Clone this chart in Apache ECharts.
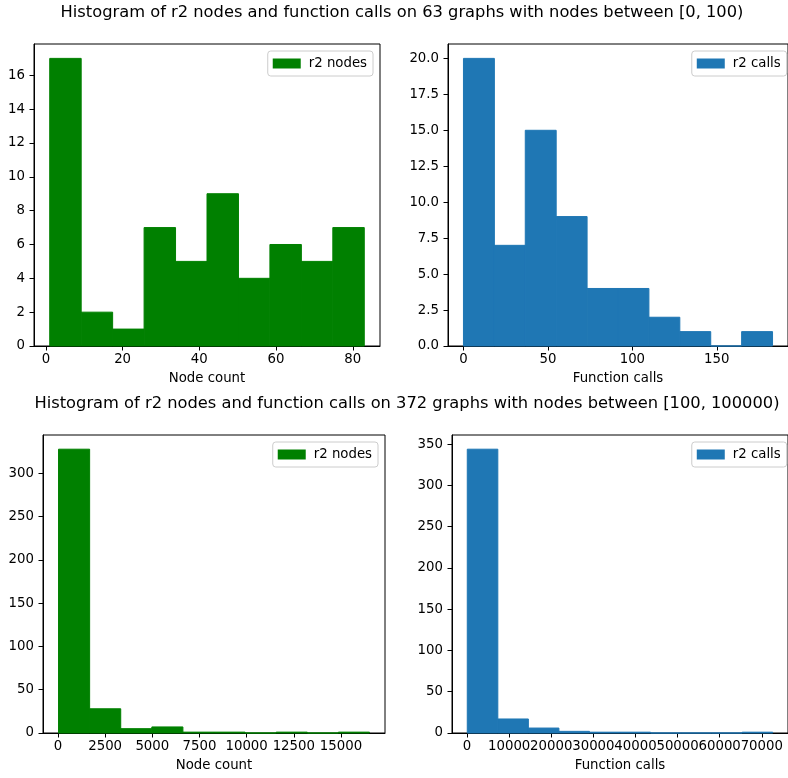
<!DOCTYPE html>
<html>
<head>
<meta charset="utf-8">
<script src="https://cdn.jsdelivr.net/npm/echarts@6/dist/echarts.min.js"></script>
<style>
  html, body { margin: 0; padding: 0; background: #fff; }
  #chart { width: 788px; height: 778px; }
</style>
</head>
<body>
<div id="chart"></div>
<script>
// Histogram counts (10 equal-width bins between the data min and max)
const nodesSmallRange = [1, 83];
const nodesSmallCounts = [17, 2, 1, 7, 5, 9, 4, 6, 5, 7];
const callsSmallRange = [0, 183];
const callsSmallCounts = [20, 7, 15, 9, 4, 4, 2, 1, 0, 1];
const nodesLargeRange = [30, 16510];
const nodesLargeCounts = [328, 28, 5, 7, 1, 1, 0, 1, 0, 1];
const callsLargeRange = [50, 72600];
const callsLargeCounts = [344, 17, 6, 2, 1, 1, 0, 0, 0, 1];

// Tick values
const ticksX1 = [0, 20, 40, 60, 80];
const ticksY1 = [0, 2, 4, 6, 8, 10, 12, 14, 16];
const ticksX2 = [0, 50, 100, 150];
const ticksY2 = [0, 2.5, 5, 7.5, 10, 12.5, 15, 17.5, 20];
const ticksX3 = [0, 2500, 5000, 7500, 10000, 12500, 15000];
const ticksY3 = [0, 50, 100, 150, 200, 250, 300];
const ticksX4 = [0, 10000, 20000, 30000, 40000, 50000, 60000, 70000];
const ticksY4 = [0, 50, 100, 150, 200, 250, 300, 350];

const titleTop = 'Histogram of r2 nodes and function calls on 63 graphs with nodes between [0, 100)';
const titleBottom = 'Histogram of r2 nodes and function calls on 372 graphs with nodes between [100, 100000)';

const GREEN = '#008000';
const BLUE = '#1f77b4';
const FONT = 'DejaVu Sans';
const TICK_FS = 13.3;
const TITLE_FS = 16.3;

function bins(range, counts) {
  const w = (range[1] - range[0]) / counts.length;
  return counts.map((c, i) => [range[0] + i * w, range[0] + (i + 1) * w, c]);
}
function padded(range) {
  const m = (range[1] - range[0]) * 0.05;
  return [range[0] - m, range[1] + m];
}

// One rectangle per bin, spanning [left edge, right edge] x [0, count]
function renderBar(params, api) {
  const p0 = api.coord([api.value(0), api.value(2)]);
  const p1 = api.coord([api.value(1), 0]);
  const c = api.visual('color');
  return {
    type: 'rect',
    shape: { x: p0[0], y: p0[1], width: p1[0] - p0[0], height: p1[1] - p0[1] },
    style: { fill: c, stroke: c, lineWidth: 1 }
  };
}

const grids = [
  { left: 34, top: 44, width: 346, height: 302 },
  { left: 448, top: 44, width: 347, height: 302 },
  { left: 43, top: 435, width: 342, height: 298 },
  { left: 452, top: 435, width: 342, height: 298 }
].map(g => Object.assign({ show: true, borderColor: '#000', borderWidth: 1, backgroundColor: 'transparent' }, g));

function xAxis(idx, range, ticks, name) {
  const ext = padded(range);
  return {
    type: 'value', gridIndex: idx, min: ext[0], max: ext[1],
    name: name, nameLocation: 'middle', nameGap: 26,
    nameTextStyle: { fontFamily: FONT, fontSize: TICK_FS, color: '#000' },
    axisLine: { show: true, onZero: false, lineStyle: { color: '#000', width: 1 } },
    axisTick: { show: true, inside: false, length: 4.5, customValues: ticks, lineStyle: { color: '#000' } },
    axisLabel: { customValues: ticks, margin: 7, fontFamily: FONT, fontSize: TICK_FS, color: '#000',
      hideOverlap: false, showMinLabel: true, showMaxLabel: true, formatter: v => String(v) },
    splitLine: { show: false }
  };
}
function yAxis(idx, maxCount, ticks, fmt) {
  return {
    type: 'value', gridIndex: idx, min: 0, max: maxCount * 1.05,
    axisLine: { show: true, onZero: false, lineStyle: { color: '#000', width: 1 } },
    axisTick: { show: true, inside: false, length: 4.5, customValues: ticks, lineStyle: { color: '#000' } },
    axisLabel: { customValues: ticks, margin: 9, fontFamily: FONT, fontSize: TICK_FS, color: '#000',
      showMinLabel: true, showMaxLabel: true, formatter: fmt || (v => String(v)) },
    splitLine: { show: false }
  };
}

function legend(seriesName, right, top) {
  return {
    data: [seriesName], right: right, top: top, orient: 'vertical',
    icon: 'rect', itemWidth: 28, itemHeight: 10,
    padding: [6, 6, 6, 5],
    backgroundColor: 'rgba(255,255,255,0.8)', borderColor: '#cccccc', borderWidth: 1, borderRadius: 3,
    selectedMode: false,
    textStyle: { fontFamily: FONT, fontSize: TICK_FS, color: '#000', padding: [0, 0, 0, 3] }
  };
}

const option = {
  animation: false,
  grid: grids,
  xAxis: [
    xAxis(0, nodesSmallRange, ticksX1, 'Node count'),
    xAxis(1, callsSmallRange, ticksX2, 'Function calls'),
    xAxis(2, nodesLargeRange, ticksX3, 'Node count'),
    xAxis(3, callsLargeRange, ticksX4, 'Function calls')
  ],
  yAxis: [
    yAxis(0, Math.max(...nodesSmallCounts), ticksY1),
    yAxis(1, Math.max(...callsSmallCounts), ticksY2, v => v.toFixed(1)),
    yAxis(2, Math.max(...nodesLargeCounts), ticksY3),
    yAxis(3, Math.max(...callsLargeCounts), ticksY4)
  ],
  legend: [
    legend('r2 nodes', 415, 51),
    legend('r2 calls', 1.3, 51),
    legend('r2 nodes', 410, 442),
    legend('r2 calls', 1.3, 442)
  ],
  graphic: [
    { type: 'text', x: 402, y: 13,
      style: { text: titleTop, fontFamily: FONT, fontSize: TITLE_FS, fill: '#000', align: 'center', verticalAlign: 'middle' } },
    { type: 'text', x: 407, y: 404,
      style: { text: titleBottom, fontFamily: FONT, fontSize: TITLE_FS, fill: '#000', align: 'center', verticalAlign: 'middle' } }
  ],
  series: [
    { type: 'custom', name: 'r2 nodes', xAxisIndex: 0, yAxisIndex: 0, itemStyle: { color: GREEN },
      renderItem: renderBar, encode: { x: [0, 1], y: 2 }, data: bins(nodesSmallRange, nodesSmallCounts) },
    { type: 'custom', name: 'r2 calls', xAxisIndex: 1, yAxisIndex: 1, itemStyle: { color: BLUE },
      renderItem: renderBar, encode: { x: [0, 1], y: 2 }, data: bins(callsSmallRange, callsSmallCounts) },
    { type: 'custom', name: 'r2 nodes', xAxisIndex: 2, yAxisIndex: 2, itemStyle: { color: GREEN },
      renderItem: renderBar, encode: { x: [0, 1], y: 2 }, data: bins(nodesLargeRange, nodesLargeCounts) },
    { type: 'custom', name: 'r2 calls', xAxisIndex: 3, yAxisIndex: 3, itemStyle: { color: BLUE },
      renderItem: renderBar, encode: { x: [0, 1], y: 2 }, data: bins(callsLargeRange, callsLargeCounts) }
  ]
};

const chart = echarts.init(document.getElementById('chart'), null, { renderer: 'canvas' });
chart.setOption(option);
</script>
</body>
</html>
